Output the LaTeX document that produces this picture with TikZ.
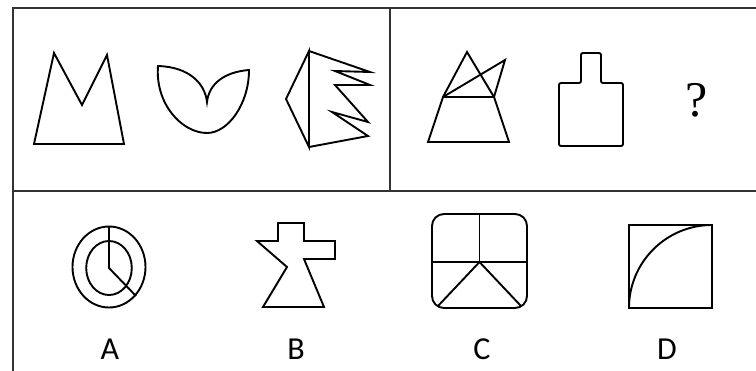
\documentclass[tikz,border=0pt]{standalone}
\usepackage{fontspec}
\setmainfont{Liberation Serif}
\newfontfamily\labelfont{Carlito}
\begin{document}
\begin{tikzpicture}[x=1pt,y=-1pt,
  frame/.style={line width=2.2pt,draw=black!80},
  fig/.style={line width=1.9pt,draw=black,line join=miter},
  optlabel/.style={font=\labelfont\fontsize{32}{36}\selectfont,anchor=base,inner sep=0pt}]
\fill[white] (0,0) rectangle (756,370);
\useasboundingbox (0,0) rectangle (756,370);
% frame
\draw[frame] (13,380) -- (13,8) -- (770,8);
\draw[frame] (13,191) -- (770,191);
\draw[frame] (390,8) -- (390,191);
% M shape
\draw[fig] (34,144) -- (54,53) -- (82,105) -- (107,55) -- (124,144) -- cycle;
% leaf shape
\draw[fig] (158,66) .. controls (190,67) and (205,84) .. (207,102)
  .. controls (209,84) and (224,72) .. (249,70)
  .. controls (249,104) and (228,133) .. (207,133)
  .. controls (182,133) and (155,104) .. (158,66) -- cycle;
% zigzag shape
\draw[fig] (309,51) -- (286,99) -- (309,147) -- cycle;
\draw[fig] (309,51) -- (370,72) -- (335,71) -- (370,85) -- (335,85)
  -- (368,122) -- (332,112) -- (368,136) -- (309,147);
% triangle shape
\draw[fig] (428,142) -- (443,97) -- (467,52) -- (494,97) -- (509,142) -- cycle;
\draw[fig] (443,97) -- (494,97);
\draw[fig] (443,97) -- (505,60) -- (494,97);
% bottle shape
\draw[fig,rounded corners=2pt] (559,146) -- (559,83) -- (581,83) -- (581,53)
  -- (601,53) -- (601,83) -- (623,83) -- (623,146) -- cycle;
% question mark
\node[font=\fontsize{50}{54}\selectfont,anchor=base,inner sep=0pt] (q) at (697,116) {?};
% option A
\draw[fig] (109,267) ellipse [x radius=36.5pt, y radius=40.5pt];
\draw[fig] (109,268) ellipse [x radius=22.8pt, y radius=27pt];
\draw[fig] (109,227) -- (109,268) -- (136,296);
% option B
\draw[fig] (257,241) -- (278,241) -- (278,223) -- (304,223) -- (304,241)
  -- (335,241) -- (335,259) -- (304,259) -- (324,307) -- (263,307)
  -- (287,267) -- cycle;
% option C
\draw[fig,rounded corners=12pt] (432,214) rectangle (527,308);
\draw[fig] (479.5,214) -- (479.5,262);
\draw[fig] (432,262) -- (527,262);
\draw[fig] (438,306) -- (479.5,262) -- (521,306);
% option D
\draw[fig] (629,225) rectangle (712,308);
\draw[fig] (629,308) .. controls (629,262.2) and (666.2,225) .. (712,225);
% labels
\node[optlabel] (la) at (110,359) {A};
\node[optlabel] (lb) at (296,359) {B};
\node[optlabel] (lc) at (482,359) {C};
\node[optlabel] (ld) at (667,359) {D};
\end{tikzpicture}
\end{document}
